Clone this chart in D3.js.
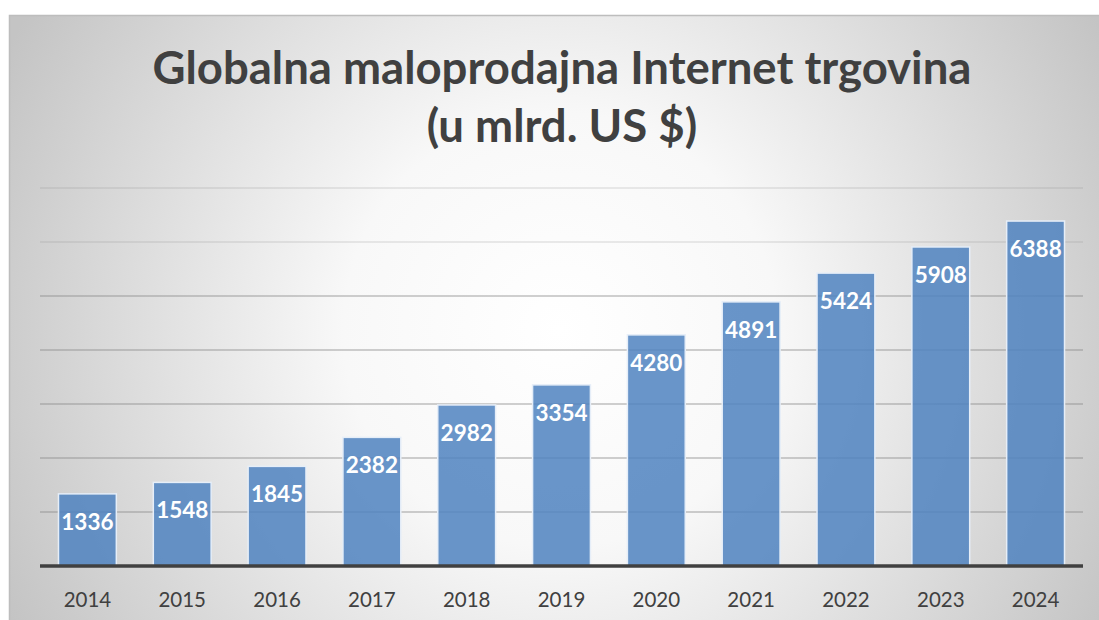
<!DOCTYPE html>
<html><head><meta charset="utf-8">
<script src="https://cdn.jsdelivr.net/npm/d3@7"></script>
<style>html,body{margin:0;padding:0;background:#fff;overflow:hidden}</style>
</head><body>
<script>
const years = ["2014","2015","2016","2017","2018","2019","2020","2021","2022","2023","2024"];
const values = [1336,1548,1845,2382,2982,3354,4280,4891,5424,5908,6388];
const yTicks = [1000,2000,3000,4000,5000,6000,7000];
const titleLines = ["Globalna maloprodajna Internet trgovina","(u mlrd. US $)"];

const W = 1099, H = 620;
const svg = d3.select("body").append("svg").attr("width", W).attr("height", H);
const defs = svg.append("defs");
const rg = defs.append("radialGradient").attr("id","bg")
  .attr("gradientUnits","userSpaceOnUse").attr("cx",560).attr("cy",330).attr("r",620);
rg.append("stop").attr("offset","0%").attr("stop-color","#ffffff");
rg.append("stop").attr("offset","35%").attr("stop-color","#f8f8f8");
rg.append("stop").attr("offset","100%").attr("stop-color","#c4c4c4");

svg.append("rect").attr("x",9.5).attr("y",15.5).attr("width",W).attr("height",H)
  .attr("fill","url(#bg)").attr("stroke","#bdbdbd").attr("stroke-width",1.5);

const x = d3.scaleBand().domain(years).range([40,1083]).paddingInner(0.39).paddingOuter(0.195);
const y = d3.scaleLinear().domain([0,7000]).range([566,188]);

const g = svg.append("g");
g.selectAll("line.grid").data(yTicks).join("line").attr("class","grid")
  .attr("x1",40).attr("x2",1083).attr("y1",d=>y(d)).attr("y2",d=>y(d))
  .attr("stroke","#8a8a8a").attr("stroke-opacity",d=> d>=6000?0.35:0.8).attr("stroke-width",1.2);

g.selectAll("rect.bar").data(values).join("rect").attr("class","bar")
  .attr("x",(d,i)=>x(years[i])).attr("width",x.bandwidth())
  .attr("y",d=>y(d)).attr("height",d=>y(0)-y(d))
  .attr("fill","#4f82c0").attr("fill-opacity",0.85)
  .attr("stroke","#e6eef8").attr("stroke-width",1.5);

g.selectAll("text.val").data(values).join("text").attr("class","val")
  .attr("x",(d,i)=>x(years[i])+x.bandwidth()/2).attr("y",d=>y(d)+36)
  .attr("text-anchor","middle").attr("fill","#ffffff")
  .style("font-family","Lato, 'Open Sans', sans-serif").style("font-weight","700").style("font-size","22.5px")
  .text(d=>d);

const xAxis = d3.axisBottom(x).tickSize(0).tickPadding(26);
const ax = svg.append("g").attr("transform","translate(0,566)").call(xAxis);
ax.select(".domain").attr("stroke","#404040").attr("stroke-width",3.5).attr("d","M40,0H1083");
ax.selectAll("text").attr("fill","#404040").style("font-family","Lato, 'Open Sans', sans-serif").style("font-size","20.5px");

svg.append("g").selectAll("text").data(titleLines).join("text")
  .attr("x",562).attr("y",(d,i)=>84+i*58).attr("text-anchor","middle")
  .attr("fill","#404040").style("font-family","Lato, 'Open Sans', sans-serif")
  .style("font-weight","700").style("font-size","45.5px").text(d=>d);
</script>
</body></html>
